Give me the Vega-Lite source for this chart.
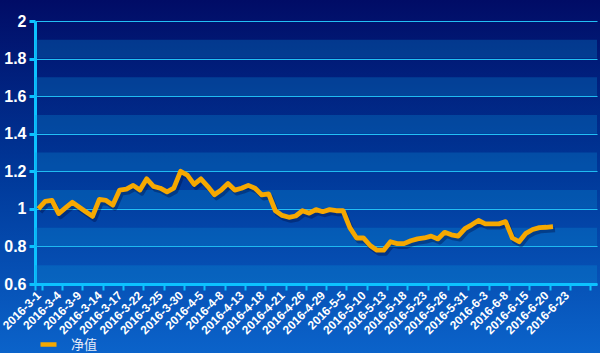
{
  "$schema": "https://vega.github.io/schema/vega-lite/v6.json",
  "width": 600,
  "height": 353,
  "padding": 0,
  "autosize": {"type": "none"},
  "background": "#0a4fb0",
  "config": {
    "view": {
      "stroke": null,
      "fill": {
        "gradient": "linear", "x1": 0, "y1": 0, "x2": 0, "y2": 1,
        "stops": [
          {"offset": 0, "color": "#010c66"},
          {"offset": 0.5, "color": "#00399a"},
          {"offset": 1, "color": "#0b63ca"}
        ]
      }
    }
  },
  "datasets": {
    "nav": [
      {"date": "2016-3-1", "v": 1.0}, {"date": "2016-3-2", "v": 1.04}, {"date": "2016-3-3", "v": 1.045}, {"date": "2016-3-4", "v": 0.975},
      {"date": "2016-3-7", "v": 1.005}, {"date": "2016-3-8", "v": 1.035}, {"date": "2016-3-9", "v": 1.01}, {"date": "2016-3-10", "v": 0.985},
      {"date": "2016-3-11", "v": 0.96}, {"date": "2016-3-14", "v": 1.05}, {"date": "2016-3-15", "v": 1.045}, {"date": "2016-3-16", "v": 1.02},
      {"date": "2016-3-17", "v": 1.1}, {"date": "2016-3-18", "v": 1.105}, {"date": "2016-3-21", "v": 1.125}, {"date": "2016-3-22", "v": 1.1},
      {"date": "2016-3-23", "v": 1.16}, {"date": "2016-3-24", "v": 1.12}, {"date": "2016-3-25", "v": 1.11}, {"date": "2016-3-28", "v": 1.09},
      {"date": "2016-3-29", "v": 1.11}, {"date": "2016-3-30", "v": 1.2}, {"date": "2016-3-31", "v": 1.18}, {"date": "2016-4-1", "v": 1.13},
      {"date": "2016-4-5", "v": 1.16}, {"date": "2016-4-6", "v": 1.12}, {"date": "2016-4-7", "v": 1.075}, {"date": "2016-4-8", "v": 1.1},
      {"date": "2016-4-11", "v": 1.135}, {"date": "2016-4-12", "v": 1.1}, {"date": "2016-4-13", "v": 1.11}, {"date": "2016-4-14", "v": 1.125},
      {"date": "2016-4-15", "v": 1.11}, {"date": "2016-4-18", "v": 1.074}, {"date": "2016-4-19", "v": 1.08}, {"date": "2016-4-20", "v": 0.99},
      {"date": "2016-4-21", "v": 0.965}, {"date": "2016-4-22", "v": 0.955}, {"date": "2016-4-25", "v": 0.962}, {"date": "2016-4-26", "v": 0.99},
      {"date": "2016-4-27", "v": 0.977}, {"date": "2016-4-28", "v": 0.996}, {"date": "2016-4-29", "v": 0.985}, {"date": "2016-5-3", "v": 0.996},
      {"date": "2016-5-4", "v": 0.99}, {"date": "2016-5-5", "v": 0.99}, {"date": "2016-5-6", "v": 0.9}, {"date": "2016-5-9", "v": 0.845},
      {"date": "2016-5-10", "v": 0.845}, {"date": "2016-5-11", "v": 0.805}, {"date": "2016-5-12", "v": 0.78}, {"date": "2016-5-13", "v": 0.78},
      {"date": "2016-5-16", "v": 0.825}, {"date": "2016-5-17", "v": 0.815}, {"date": "2016-5-18", "v": 0.815}, {"date": "2016-5-19", "v": 0.83},
      {"date": "2016-5-20", "v": 0.84}, {"date": "2016-5-23", "v": 0.845}, {"date": "2016-5-24", "v": 0.855}, {"date": "2016-5-25", "v": 0.84},
      {"date": "2016-5-26", "v": 0.875}, {"date": "2016-5-27", "v": 0.862}, {"date": "2016-5-30", "v": 0.855}, {"date": "2016-5-31", "v": 0.895},
      {"date": "2016-6-1", "v": 0.915}, {"date": "2016-6-2", "v": 0.938}, {"date": "2016-6-3", "v": 0.92}, {"date": "2016-6-6", "v": 0.92},
      {"date": "2016-6-7", "v": 0.92}, {"date": "2016-6-8", "v": 0.932}, {"date": "2016-6-13", "v": 0.845}, {"date": "2016-6-14", "v": 0.825},
      {"date": "2016-6-15", "v": 0.87}, {"date": "2016-6-16", "v": 0.89}, {"date": "2016-6-17", "v": 0.9}, {"date": "2016-6-20", "v": 0.902},
      {"date": "2016-6-21", "v": 0.905}
    ],
    "bands": [
      {"lo": 1.8, "hi": 1.9}, {"lo": 1.6, "hi": 1.7}, {"lo": 1.4, "hi": 1.5}, {"lo": 1.2, "hi": 1.3},
      {"lo": 1.0, "hi": 1.1}, {"lo": 0.8, "hi": 0.9}, {"lo": 0.6, "hi": 0.7}
    ]
  },
  "layer": [
    {
      "data": {"name": "bands"},
      "mark": {"type": "rect", "fill": "#0a94d8", "opacity": 0.28},
      "encoding": {
        "x": {"datum": "2016-3-1", "type": "ordinal", "bandPosition": 0},
        "x2": {"datum": "2016-6-29", "bandPosition": 1},
        "y": {"field": "lo", "type": "quantitative", "title": null},
        "y2": {"field": "hi"}
      }
    },
    {
      "data": {"name": "nav"},
      "mark": {"type": "line", "stroke": "#000838", "opacity": 0.35, "strokeWidth": 5, "xOffset": 2, "yOffset": 3, "strokeJoin": "round"},
      "encoding": {
        "x": {"field": "date", "type": "ordinal", "sort": null, "title": null},
        "y": {"field": "v", "type": "quantitative", "title": null}
      }
    },
    {
      "data": {"name": "nav"},
      "mark": {"type": "line", "strokeWidth": 4.8, "strokeJoin": "round"},
      "encoding": {
        "x": {
          "field": "date", "type": "ordinal", "sort": null, "title": null,
          "scale": {
            "type": "band", "paddingInner": 0, "paddingOuter": 0, "range": [35, 597],
            "domain": ["2016-3-1","2016-3-2","2016-3-3","2016-3-4","2016-3-7","2016-3-8","2016-3-9","2016-3-10","2016-3-11","2016-3-14","2016-3-15","2016-3-16","2016-3-17","2016-3-18","2016-3-21","2016-3-22","2016-3-23","2016-3-24","2016-3-25","2016-3-28","2016-3-29","2016-3-30","2016-3-31","2016-4-1","2016-4-5","2016-4-6","2016-4-7","2016-4-8","2016-4-11","2016-4-12","2016-4-13","2016-4-14","2016-4-15","2016-4-18","2016-4-19","2016-4-20","2016-4-21","2016-4-22","2016-4-25","2016-4-26","2016-4-27","2016-4-28","2016-4-29","2016-5-3","2016-5-4","2016-5-5","2016-5-6","2016-5-9","2016-5-10","2016-5-11","2016-5-12","2016-5-13","2016-5-16","2016-5-17","2016-5-18","2016-5-19","2016-5-20","2016-5-23","2016-5-24","2016-5-25","2016-5-26","2016-5-27","2016-5-30","2016-5-31","2016-6-1","2016-6-2","2016-6-3","2016-6-6","2016-6-7","2016-6-8","2016-6-13","2016-6-14","2016-6-15","2016-6-16","2016-6-17","2016-6-20","2016-6-21","2016-6-22","2016-6-23","2016-6-24","2016-6-27","2016-6-28","2016-6-29"]
          },
          "axis": {
            "orient": "bottom", "offset": -69,
            "values": ["2016-3-1","2016-3-4","2016-3-9","2016-3-14","2016-3-17","2016-3-22","2016-3-25","2016-3-30","2016-4-5","2016-4-8","2016-4-13","2016-4-18","2016-4-21","2016-4-26","2016-4-29","2016-5-5","2016-5-10","2016-5-13","2016-5-18","2016-5-23","2016-5-26","2016-5-31","2016-6-3","2016-6-8","2016-6-15","2016-6-20","2016-6-23","2016-6-28"],
            "labelExpr": "datum.value == '2016-6-28' ? '' : datum.label",
            "tickBand": "extent",
            "grid": false,
            "domainColor": "#0cc2ff", "domainWidth": 3,
            "tickColor": "#0cc2ff", "tickWidth": 2, "tickSize": 6,
            "labelAngle": -45, "labelAlign": "right", "labelBaseline": "middle",
            "labelPadding": 3, "labelFont": "Liberation Sans", "labelFontSize": 12, "labelFontWeight": "bold",
            "labelColor": "#ffffff", "labelOverlap": false, "labelBound": false, "labelFlush": false
          }
        },
        "y": {
          "field": "v", "type": "quantitative", "title": null,
          "scale": {"domain": [0.6, 2], "range": [284, 21], "nice": false, "zero": false},
          "axis": {
            "orient": "left", "offset": -35,
            "values": [0.6, 0.7, 0.8, 0.9, 1, 1.1, 1.2, 1.3, 1.4, 1.5, 1.6, 1.7, 1.8, 1.9, 2],
            "labelExpr": "round(datum.value*10)%2==0 ? format(datum.value,'~g') : ''",
            "grid": true,
            "gridColor": {"condition": {"test": "round(datum.value*10)%2==1", "value": "#1f9ee3"}, "value": "#22c0f5"},
            "gridWidth": 1,
            "domainColor": "#0cc2ff", "domainWidth": 3,
            "tickColor": "#0cc2ff", "tickWidth": 3, "tickSize": 6,
            "tickOpacity": {"condition": {"test": "round(datum.value*10)%2==1", "value": 0}, "value": 1},
            "labelPadding": 3, "labelFont": "Liberation Sans", "labelFontSize": 16, "labelFontWeight": "bold",
            "labelColor": "#ffffff", "labelOverlap": false, "labelFlush": false, "labelBound": false
          }
        },
        "color": {
          "datum": "净值",
          "scale": {"range": ["#f6a800"]},
          "legend": {
            "title": null, "orient": "none", "legendX": 38, "legendY": 334, "padding": 0,
            "symbolType": "stroke", "symbolStrokeWidth": 4.5, "symbolSize": 256,
            "labelFont": "Noto Sans CJK SC", "labelFontSize": 13, "labelColor": "#e6ecf8", "labelOffset": 12
          }
        }
      }
    }
  ]
}
